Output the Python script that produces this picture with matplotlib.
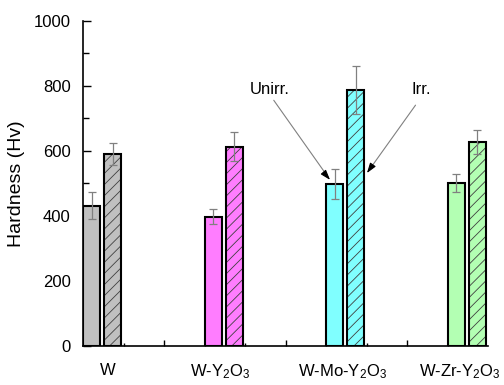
import matplotlib
matplotlib.use("Agg")
import matplotlib.pyplot as plt

plt.rcParams['font.family'] = ['Liberation Sans', 'DejaVu Sans']
plt.rcParams['mathtext.fontset'] = 'custom'
plt.rcParams['mathtext.rm'] = 'Liberation Sans'
plt.rcParams['mathtext.it'] = 'Liberation Sans'
plt.rcParams['hatch.linewidth'] = 0.6

# ---- data ----
materials = ['W', r'W-Y$_2$O$_3$', r'W-Mo-Y$_2$O$_3$', r'W-Zr-Y$_2$O$_3$']
colors = ['#C0C0C0', '#FF7DFF', '#80FFFF', '#B3FFB3']
unirr = [432, 398, 498, 502]
unirr_err = [42, 23, 47, 28]
irr = [591, 613, 787, 629]
irr_err = [34, 44, 73, 37]
yticks = [0, 200, 400, 600, 800, 1000]

fig = plt.figure(figsize=(5.04, 3.85), dpi=100)
ax = fig.add_axes([0.1647, 0.1013, 0.8036, 0.8442])

group_pos = [0, 3, 6, 9]
w = 0.42
off_irr = 0.52
ecol = '#808080'
for i, g in enumerate(group_pos):
    # unirradiated
    ax.bar(g, unirr[i], width=w, align='edge', color=colors[i],
           edgecolor='black', linewidth=1.5, zorder=2)
    ax.errorbar(g + w / 2, unirr[i], yerr=unirr_err[i], fmt='none',
                ecolor=ecol, elinewidth=0.9, capsize=3, capthick=0.9, zorder=3)
    # irradiated (hatched)
    ax.bar(g + off_irr, irr[i], width=w, align='edge', color=colors[i],
           edgecolor='#404040', linewidth=0, hatch='///', zorder=2)
    ax.bar(g + off_irr, irr[i], width=w, align='edge', fill=False,
           edgecolor='black', linewidth=1.5, zorder=2.5)
    ax.errorbar(g + off_irr + w / 2, irr[i], yerr=irr_err[i], fmt='none',
                ecolor=ecol, elinewidth=0.9, capsize=3, capthick=0.9, zorder=3)

ax.set_xlim(0, 10)
ax.set_ylim(0, 1000)
ax.spines['top'].set_visible(False)
ax.spines['right'].set_visible(False)
ax.spines['left'].set_linewidth(1.2)
ax.spines['bottom'].set_linewidth(1.2)

ax.set_yticks(yticks)
ax.set_yticks(range(100, 1000, 200), minor=True)
ax.tick_params(axis='y', which='major', direction='in', length=6, width=1,
               pad=9, labelsize=12)
ax.tick_params(axis='y', which='minor', direction='in', length=4, width=1)

# x labels at group centres, tick marks separately
label_pos = [0.62, 3.38, 6.4, 9.3]
ax.set_xticks(label_pos)
ax.set_xticklabels(materials)
ax.tick_params(axis='x', which='major', length=0, pad=12, labelsize=12)
ax.set_xticks([1, 3, 4, 6, 7, 9], minor=True)
ax.tick_params(axis='x', which='minor', direction='in', length=2.5, width=1)
sec = ax.secondary_xaxis('bottom')
sec.set_xticks([2, 5, 8])
sec.set_xticklabels([])
sec.tick_params(direction='in', length=4, width=1)
sec.spines['bottom'].set_visible(False)

ax.set_ylabel('Hardness (Hv)', fontsize=14, labelpad=6)

# annotations
ax.text(4.12, 788, 'Unirr.', fontsize=12, va='center', ha='left')
ax.text(8.12, 788, 'Irr.', fontsize=12, va='center', ha='left')
ax.annotate('', xy=(6.1, 511), xytext=(4.67, 763),
            arrowprops=dict(arrowstyle='-', color='#808080', lw=0.8))
ax.annotate('', xy=(6.1, 511), xytext=(5.95, 533),
            arrowprops=dict(arrowstyle='-|>,head_length=0.6,head_width=0.2',
                            color='black', lw=0.8, shrinkA=0, shrinkB=0))
ax.annotate('', xy=(7.01, 532), xytext=(8.25, 748),
            arrowprops=dict(arrowstyle='-', color='#808080', lw=0.8))
ax.annotate('', xy=(7.01, 532), xytext=(7.14, 555),
            arrowprops=dict(arrowstyle='-|>,head_length=0.6,head_width=0.2',
                            color='black', lw=0.8, shrinkA=0, shrinkB=0))

fig.savefig('out.png', dpi=100)
